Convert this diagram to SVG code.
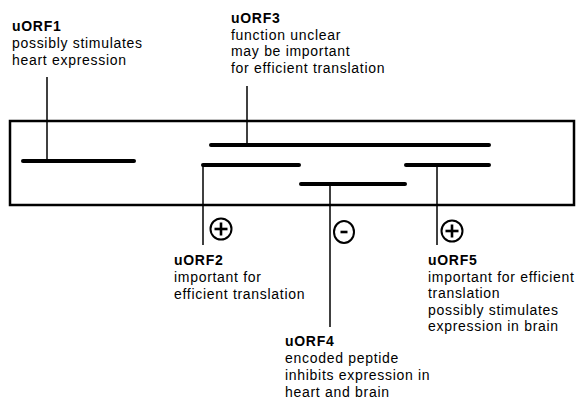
<svg xmlns="http://www.w3.org/2000/svg" width="576" height="404" viewBox="0 0 576 404">
<style>
text{font-family:"Liberation Sans",Arial,Helvetica,sans-serif;font-size:14px;letter-spacing:0.7px;fill:#000}
.b{font-weight:bold}
.bar{stroke:#000;stroke-width:4;stroke-linecap:round}
.lead{stroke:#000;stroke-width:1.5;fill:none}
.sign{fill:none;stroke:#000;stroke-width:2}
.sym{stroke:#000;stroke-width:2.6}
</style>
<rect width="576" height="404" fill="#fff"/>
<rect x="10" y="121" width="564" height="84" fill="none" stroke="#000" stroke-width="2.5"/>
<g id="connectors">
<line class="lead" x1="47" y1="77" x2="47" y2="161"/>
<line class="lead" x1="247" y1="86" x2="247" y2="145"/>
<line class="lead" x1="203" y1="165" x2="203" y2="245"/>
<line class="lead" x1="330" y1="184" x2="330" y2="327"/>
<line class="lead" x1="437" y1="165" x2="437" y2="245"/>
</g>
<g id="uORF1">
<line class="bar" x1="23" y1="161" x2="134" y2="161"/>
<text x="12" y="31" class="b">uORF1</text>
<text x="12" y="48">possibly stimulates</text>
<text x="12" y="65">heart expression</text>
</g>
<g id="uORF3">
<line class="bar" x1="211" y1="145" x2="489" y2="145"/>
<text x="231" y="23" class="b">uORF3</text>
<text x="231" y="39.5">function unclear</text>
<text x="231" y="56">may be important</text>
<text x="231" y="72.5">for efficient translation</text>
</g>
<g id="uORF2">
<line class="bar" x1="203" y1="165" x2="299" y2="165"/>
<circle class="sign" cx="221" cy="229" r="10.5"/>
<line class="sym" x1="214.5" y1="229" x2="227.5" y2="229"/>
<line class="sym" x1="221" y1="222.5" x2="221" y2="235.5"/>
<text x="174" y="265" class="b">uORF2</text>
<text x="174" y="282">important for</text>
<text x="174" y="299">efficient translation</text>
</g>
<g id="uORF4">
<line class="bar" x1="301" y1="184" x2="405" y2="184"/>
<ellipse class="sign" cx="344" cy="232" rx="10" ry="11"/>
<line class="sym" x1="340.5" y1="232" x2="347.5" y2="232"/>
<text x="285" y="346" class="b">uORF4</text>
<text x="285" y="363">encoded peptide</text>
<text x="285" y="380">inhibits expression in</text>
<text x="285" y="397">heart and brain</text>
</g>
<g id="uORF5">
<line class="bar" x1="406" y1="165" x2="489" y2="165"/>
<circle class="sign" cx="452" cy="231" r="10.5"/>
<line class="sym" x1="445.5" y1="231" x2="458.5" y2="231"/>
<line class="sym" x1="452" y1="224.5" x2="452" y2="237.5"/>
<text x="428" y="265" class="b">uORF5</text>
<text x="428" y="281.5">important for efficient</text>
<text x="428" y="298">translation</text>
<text x="428" y="314.5">possibly stimulates</text>
<text x="428" y="331">expression in brain</text>
</g>
</svg>
